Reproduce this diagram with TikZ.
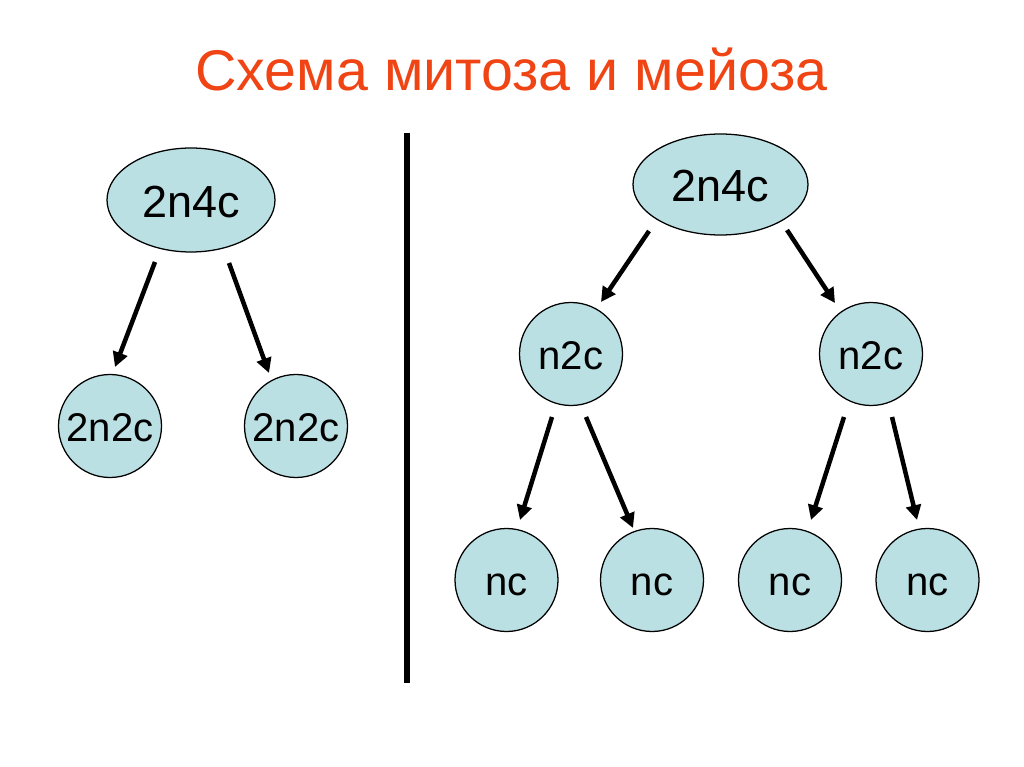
\documentclass[tikz,border=0pt]{standalone}
\usepackage{fontspec}
\setmainfont{Liberation Sans}
\usetikzlibrary{arrows.meta,shapes.geometric}
\definecolor{titlered}{RGB}{240,68,20}
\definecolor{cellfill}{RGB}{187,224,227}
\newcommand\pxu{0.025cm}
\tikzset{
  cellbase/.style={draw=black,line width=0.9pt,fill=cellfill,inner sep=0pt,text=black,text depth=0pt},
  bigcell/.style={cellbase,ellipse,font=\fontsize{32}{36}\selectfont,text height=24.4pt},
  smallcell/.style={cellbase,circle,minimum size=103*\pxu,font=\fontsize{28.5}{31}\selectfont,text height=22.6pt},
  arr/.style={line width=3.2pt,-{Triangle[length=10.5pt,width=10.5pt]}},
  divider/.style={line width=4.6pt}
}
\begin{document}
\begin{tikzpicture}[x=\pxu,y=-\pxu]
\path[fill=white,use as bounding box] (0,0) rectangle (1024,767);
% title
\node[anchor=base,text=titlered,font=\fontsize{40.8}{46}\selectfont,inner sep=0pt] (title) at (511.5,91) {Схема митоза и мейоза};
% divider
\coordinate (dtop) at (407,133);
\coordinate (dbot) at (407,683);
\draw[divider] (dtop) -- (dbot);
% mitosis
\node[bigcell,minimum width=168*\pxu,minimum height=104*\pxu] (m0) at (191,200) {2n4c};
\node[smallcell] (m1) at (110,426) {2n2c};
\node[smallcell] (m2) at (296,426) {2n2c};
\coordinate (m0a) at (155,262); \coordinate (m1a) at (115,367);
\coordinate (m0b) at (229,263); \coordinate (m2a) at (269,373);
\draw[arr] (m0a) -- (m1a);
\draw[arr] (m0b) -- (m2a);
% meiosis
\node[bigcell,minimum width=175*\pxu,minimum height=101*\pxu] (r0) at (720.5,184.5) {2n4c};
\node[smallcell] (r1) at (571,354) {n2c};
\node[smallcell] (r2) at (871,354) {n2c};
\node[smallcell] (q1) at (506.5,580) {nc};
\node[smallcell] (q2) at (652,580) {nc};
\node[smallcell] (q3) at (790,580) {nc};
\node[smallcell] (q4) at (927.5,580) {nc};
\coordinate (r0a) at (649,231); \coordinate (r1a) at (601,302);
\coordinate (r0b) at (787,230); \coordinate (r2a) at (835,303);
\draw[arr] (r0a) -- (r1a);
\draw[arr] (r0b) -- (r2a);
\coordinate (r1b) at (552,417); \coordinate (q1a) at (520,520);
\coordinate (r1c) at (586,417); \coordinate (q2a) at (633,528);
\coordinate (r2b) at (844,417); \coordinate (q3a) at (811,520);
\coordinate (r2c) at (892,417); \coordinate (q4a) at (917,520);
\draw[arr] (r1b) -- (q1a);
\draw[arr] (r1c) -- (q2a);
\draw[arr] (r2b) -- (q3a);
\draw[arr] (r2c) -- (q4a);
\end{tikzpicture}
\end{document}
